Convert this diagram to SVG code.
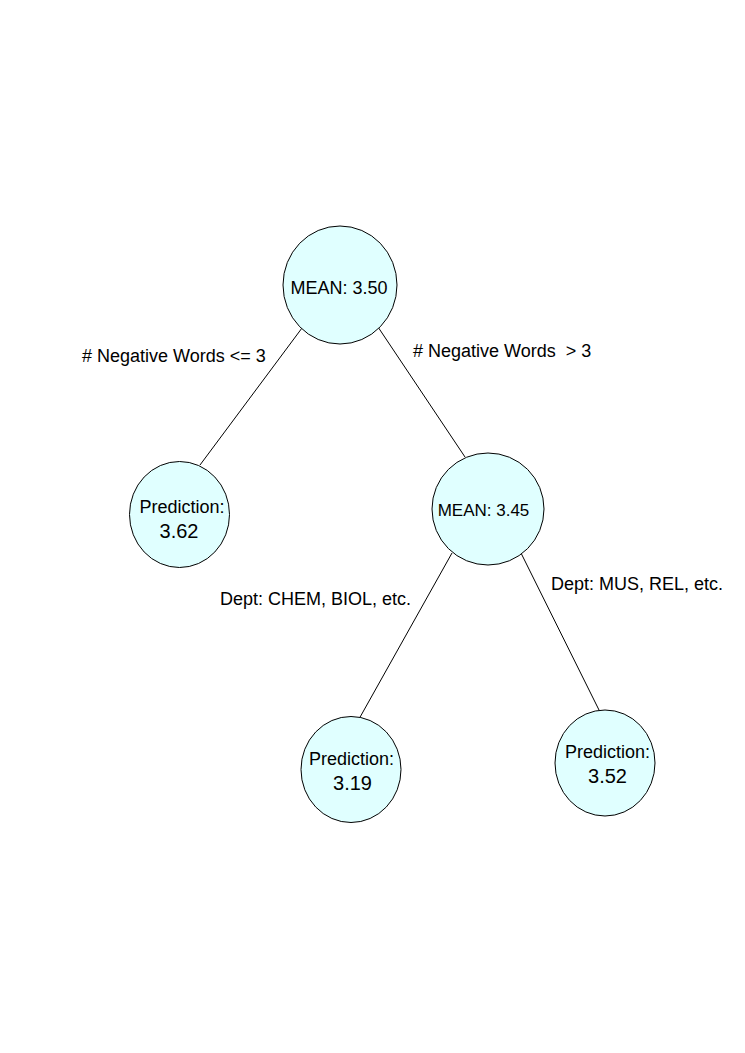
<svg xmlns="http://www.w3.org/2000/svg" width="745" height="1053" viewBox="0 0 745 1053">
<style>
.node{fill:#e0ffff;stroke:#000;stroke-width:1}
.edge{stroke:#000;stroke-width:1;fill:none}
text{font-family:"Liberation Sans",Arial,sans-serif;fill:#000}
.t{font-size:18px;text-anchor:middle}
.v{font-size:20px;text-anchor:middle}
.lbl{font-size:18px}
</style>
<rect width="745" height="1053" fill="#fff"/>
<g id="connectors">
<line class="edge" x1="302" y1="328" x2="200" y2="465"/>
<line class="edge" x1="378" y1="327" x2="465" y2="457"/>
<line class="edge" x1="452" y1="553" x2="359" y2="719"/>
<line class="edge" x1="518" y1="547" x2="600" y2="712"/>
<text class="lbl" x="82" y="362"># Negative Words &lt;= 3</text>
<text class="lbl" x="413" y="357" xml:space="preserve"># Negative Words  &gt; 3</text>
<text class="lbl" x="220" y="605">Dept: CHEM, BIOL, etc.</text>
<text class="lbl" x="551" y="590">Dept: MUS, REL, etc.</text>
</g>
<g id="root">
<ellipse class="node" cx="340" cy="285" rx="57" ry="59"/>
<text class="t" x="339" y="294">MEAN: 3.50</text>
</g>
<g id="pred-left">
<ellipse class="node" cx="179.5" cy="514.5" rx="50" ry="53"/>
<text class="t" x="182" y="513">Prediction:</text>
<text class="v" x="179" y="538">3.62</text>
</g>
<g id="mid">
<ellipse class="node" cx="488" cy="509" rx="56" ry="56"/>
<text class="t" x="483.5" y="516" style="font-size:17px">MEAN: 3.45</text>
</g>
<g id="pred-bl">
<ellipse class="node" cx="351" cy="769.5" rx="50" ry="53"/>
<text class="t" x="351.5" y="765">Prediction:</text>
<text class="v" x="352.5" y="790">3.19</text>
</g>
<g id="pred-br">
<ellipse class="node" cx="605" cy="763" rx="50" ry="53"/>
<text class="t" x="607.5" y="758">Prediction:</text>
<text class="v" x="607.5" y="783">3.52</text>
</g>
</svg>
